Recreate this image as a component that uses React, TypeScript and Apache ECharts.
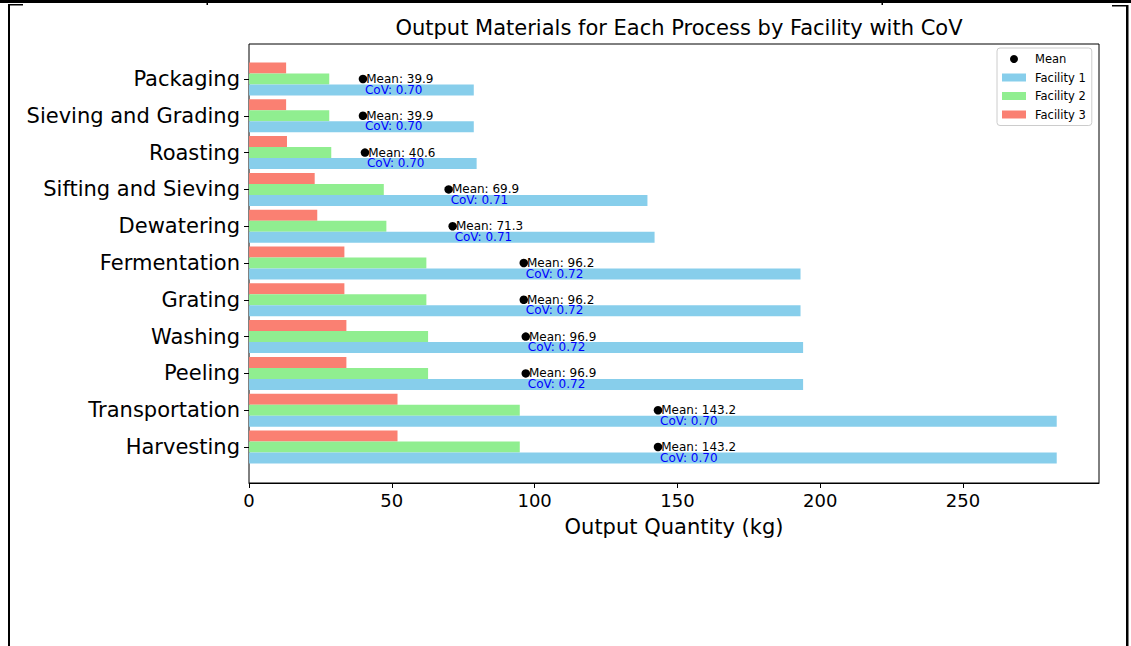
import React, { useEffect, useRef } from "react";
import * as echarts from "echarts";

// bottom to top
const categories = [
  "Harvesting",
  "Transportation",
  "Peeling",
  "Washing",
  "Grating",
  "Fermentation",
  "Dewatering",
  "Sifting and Sieving",
  "Roasting",
  "Sieving and Grading",
  "Packaging",
];
const facility1 = [282.8, 282.8, 194.0, 194.0, 193.1, 193.1, 142.0, 139.5, 79.7, 78.7, 78.7];
const facility2 = [94.8, 94.8, 62.7, 62.7, 62.1, 62.1, 48.1, 47.2, 28.8, 28.1, 28.1];
const facility3 = [52.0, 52.0, 34.1, 34.1, 33.4, 33.4, 23.9, 23.0, 13.3, 13.0, 13.0];
const means = [143.2, 143.2, 96.9, 96.9, 96.2, 96.2, 71.3, 69.9, 40.6, 39.9, 39.9];
const covs = [0.7, 0.7, 0.72, 0.72, 0.72, 0.72, 0.71, 0.71, 0.7, 0.7, 0.7];
const xTicks = [0, 50, 100, 150, 200, 250];

const FONT = "DejaVu Sans";

export default function App() {
  const ref = useRef<HTMLDivElement>(null);
  useEffect(() => {
    if (!ref.current) return;
    const chart = echarts.init(ref.current, undefined, { renderer: "svg" });
    const xMax = 297.6;
    const barSeries = (name: string, data: number[], color: string) => ({
      name,
      type: "bar",
      xAxisIndex: 1,
      yAxisIndex: 1,
      data,
      barWidth: 11,
      barGap: "0%",
      itemStyle: { color },
    });
    const option: any = {
      animation: false,
      backgroundColor: "#ffffff",
      title: {
        text: "Output Materials for Each Process by Facility with CoV",
        left: 674,
        top: 12,
        textAlign: "center",
        textStyle: { fontFamily: FONT, fontSize: 21, fontWeight: "normal", color: "#000" },
      },
      legend: {
        orient: "vertical",
        left: 997,
        top: 48,
        padding: [5, 6, 5, 5],
        itemWidth: 24,
        itemHeight: 8,
        itemGap: 6.5,
        borderColor: "#cccccc",
        borderWidth: 1,
        borderRadius: 3,
        backgroundColor: "#ffffff",
        textStyle: { fontFamily: FONT, fontSize: 11.5, color: "#000", padding: [0, 0, 0, 4] },
        data: [
          { name: "Mean", icon: "circle" },
          { name: "Facility 1", icon: "rect" },
          { name: "Facility 2", icon: "rect" },
          { name: "Facility 3", icon: "rect" },
        ],
      },
      grid: [
        { left: 249, right: 32, top: 44, bottom: 163, show: true, borderColor: "#000", borderWidth: 1, backgroundColor: "transparent" },
        { left: 249, right: 32, top: 60.6, bottom: 180.6 },
      ],
      xAxis: [
        {
          gridIndex: 0,
          type: "value",
          min: 0,
          max: xMax,
          interval: 50,
          name: "Output Quantity (kg)",
          nameLocation: "middle",
          nameGap: 33,
          nameTextStyle: { fontFamily: FONT, fontSize: 21, color: "#000" },
          axisLine: { show: true, lineStyle: { color: "#000", width: 1 } },
          axisTick: { show: true, length: 5, lineStyle: { color: "#000" } },
          splitLine: { show: false },
          axisLabel: {
            fontFamily: FONT,
            fontSize: 18,
            color: "#000",
            margin: 8,
            showMaxLabel: false,
            formatter: (v: number) => (xTicks.includes(v) ? String(v) : ""),
          },
        },
        {
          gridIndex: 1,
          type: "value",
          min: 0,
          max: xMax,
          interval: 50,
          show: false,
          splitLine: { show: false },
        },
      ],
      yAxis: [
        { gridIndex: 0, type: "value", show: false, splitLine: { show: false } },
        {
          gridIndex: 1,
          type: "category",
          data: categories,
          axisLine: { show: false },
          axisTick: { show: true, alignWithLabel: true, length: 5, lineStyle: { color: "#000" } },
          axisLabel: { fontFamily: FONT, fontSize: 21, color: "#000", margin: 9 },
          splitLine: { show: false },
        },
      ],
      series: [
        barSeries("Facility 3", facility3, "#FA8072"),
        barSeries("Facility 2", facility2, "#90EE90"),
        barSeries("Facility 1", facility1, "#87CEEB"),
        {
          name: "Mean",
          type: "scatter",
          xAxisIndex: 1,
          yAxisIndex: 1,
          symbol: "circle",
          symbolSize: 8.5,
          itemStyle: { color: "#000", opacity: 1 },
          data: means.map((m, i) => [m, i]),
          z: 5,
          label: {
            show: true,
            position: "right",
            distance: -1,
            fontFamily: FONT,
            fontSize: 12,
            color: "#000",
            formatter: (p: any) => "Mean: " + means[p.dataIndex].toFixed(1),
          },
        },
        {
          name: "CoV",
          type: "scatter",
          xAxisIndex: 1,
          yAxisIndex: 1,
          symbol: "circle",
          symbolSize: 1,
          itemStyle: { color: "transparent", opacity: 1 },
          data: means.map((m, i) => [m, i]),
          z: 5,
          label: {
            show: true,
            position: "right",
            distance: 0,
            offset: [1.5, 10.5],
            fontFamily: FONT,
            fontSize: 12,
            color: "#0000FF",
            opacity: 1,
            formatter: (p: any) => "CoV: " + covs[p.dataIndex].toFixed(2),
          },
        },
      ],
      graphic: [
        { type: "rect", shape: { x: 0, y: 0, width: 1131, height: 3 }, style: { fill: "#000" } },
        { type: "rect", shape: { x: 206.5, y: 0, width: 1.5, height: 5 }, style: { fill: "#000" } },
        { type: "rect", shape: { x: 881.5, y: 0, width: 1.5, height: 5 }, style: { fill: "#000" } },
        { type: "rect", shape: { x: 8, y: 4, width: 2, height: 642 }, style: { fill: "#000" } },
        { type: "rect", shape: { x: 8, y: 4, width: 15, height: 1.5 }, style: { fill: "#000" } },
        { type: "rect", shape: { x: 1126, y: 5, width: 2.5, height: 641 }, style: { fill: "#000" } },
        { type: "rect", shape: { x: 1112, y: 5, width: 15, height: 1.5 }, style: { fill: "#000" } },
      ],
    };
    chart.setOption(option);
    return () => chart.dispose();
  }, []);
  return (
    <div
      ref={ref}
      style={{ position: "fixed", left: 0, top: 0, width: 1131, height: 646, background: "#fff" }}
    />
  );
}
